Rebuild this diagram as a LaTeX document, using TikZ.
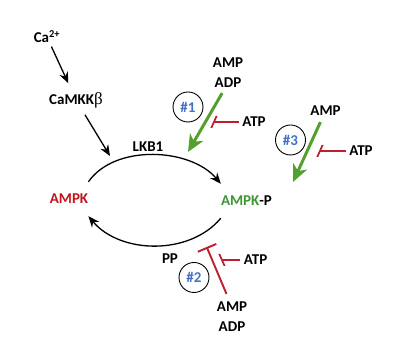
\documentclass[tikz,border=0pt]{standalone}
\usepackage{fontspec}
\setmainfont{Carlito}
\newfontfamily\betafont{Liberation Serif}
\usetikzlibrary{arrows.meta}
\definecolor{ampkred}{RGB}{192,20,30}
\definecolor{inhred}{RGB}{190,30,45}
\definecolor{actgreen}{RGB}{84,160,46}
\definecolor{textgreen}{RGB}{60,150,50}
\definecolor{tagblue}{RGB}{68,114,196}
\tikzset{
  every node/.style={font=\bfseries\fontsize{15}{18}\selectfont},
  arr/.style={-{Stealth[length=11pt,width=9pt]}, line width=1.3pt},
  act/.style={-{Stealth[length=17pt,width=15pt,inset=5pt]}, line width=3pt, draw=actgreen},
  inhib/.style={line width=1.9pt, draw=inhred},
  tag/.style={
    circle, draw=black, line width=0.9pt,
    minimum size=30pt, inner sep=0pt, text=tagblue
  },
}
\begin{document}
\begin{tikzpicture}[
      x=1pt, y=1pt,
      kinase/.style={minimum height=34pt, inner xsep=0pt}
    ]
    \useasboundingbox (0,0) rectangle (410,344);

    % Upstream kinases
    \node (ca) at (47,307) {Ca\textsuperscript{2+}};
    \node (camkk) at (76,244) {CaMKK{\betafont\mdseries\fontsize{17}{18}\selectfont β}};
    \node (lkb) at (148,197) {LKB1};
    \coordinate (camkk tip) at (110,188);

    \draw[arr, shorten >=6pt] (ca) -- (camkk);
    \draw[arr, shorten <=4pt] (camkk) -- (camkk tip);

    % Phosphorylation cycle
    \node[kinase, text=ampkred] (ampk) at (69,145) {AMPK};
    \node[kinase] (ampkp) at (246.5,143) {\textcolor{textgreen}{AMPK}-P};

    \draw[arr] (ampk.north east) to[out=55, in=130, looseness=0.9] (ampkp.north west);
    \draw[arr] (ampkp.south west) to[out=230, in=-50, looseness=0.95] (ampk.south east);

    % #1: activation by AMP/ADP
    \node (amp1) at (228,281) {AMP};
    \node (adp1) at (228,261) {ADP};
    \node (atp1) at (254,222) {ATP};
    \node[tag] (tag1) at (188,237) {\#1};
    \coordinate (tip1) at (188,192);
    \coordinate (bar1) at (213,222);

    \draw[act, shorten <=2pt] (adp1) -- (tip1);
    \draw[inhib, -{Bar[width=12pt, slant=0.45]}] (atp1) -- (bar1);

    % #3: activation by AMP
    \node (amp3) at (325.5,233) {AMP};
    \node (atp3) at (361,193) {ATP};
    \node[tag] (tag3) at (290.5,204) {\#3};
    \coordinate (tip3) at (293,162);
    \coordinate (bar3) at (319,193);

    \draw[act, shorten <=3pt] (amp3) -- (tip3);
    \draw[inhib, -{Bar[width=12pt, slant=0.45]}] (atp3) -- (bar3);

    % #2: protection against dephosphorylation
    \node (pp) at (170,85) {PP};
    \node[tag] (tag2) at (194,66.5) {\#2};
    \node (amp2) at (232,37) {AMP};
    \node (adp2) at (232,17) {ADP};
    \node (atp2) at (255.6,84) {ATP};
    \coordinate (bar2) at (206.7,97);
    \coordinate (bar2s) at (221,84);

    \draw[inhib, -{Bar[width=20pt]}, shorten <=5pt] (amp2) -- (bar2);
    \draw[inhib, -{Bar[width=12pt, slant=-0.44]}] (atp2) -- (bar2s);

\end{tikzpicture}
\end{document}
